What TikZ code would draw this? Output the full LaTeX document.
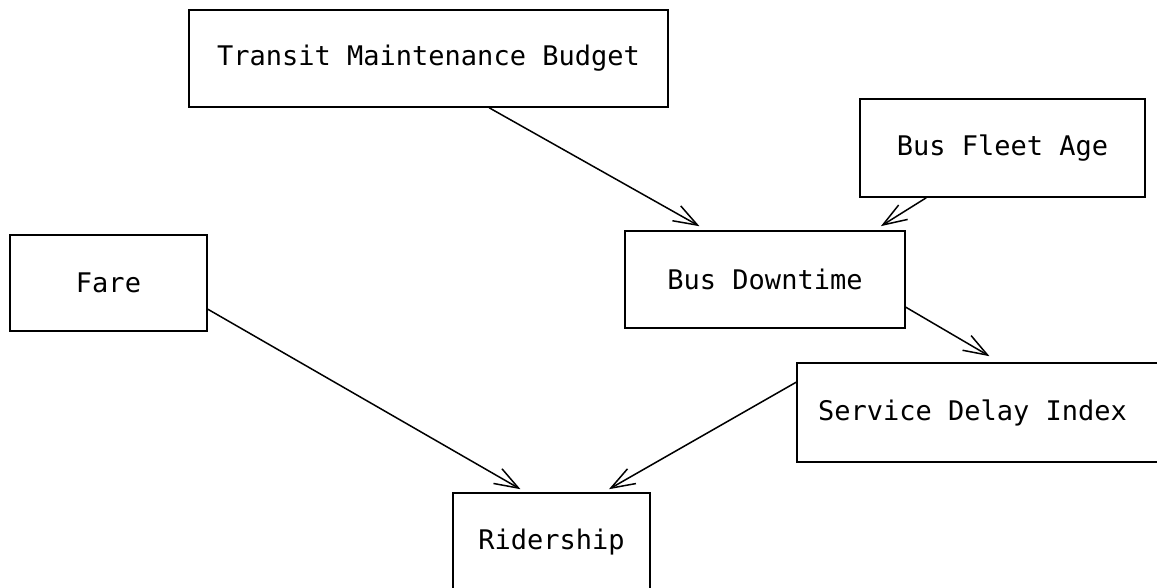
\documentclass[tikz,border=0pt]{standalone}
\usepackage{fontspec}
\newfontfamily\plotfont[WordSpace={1,0,0}]{DejaVu Sans Mono}
\usetikzlibrary{arrows.meta,calc}
\tikzset{
  box/.style={draw=black, line width=1.6pt, rectangle, inner sep=0pt, font=\plotfont\fontsize{27}{31}\selectfont},
  link/.style={draw=black, line width=1.5pt, -{Straight Barb[length=24pt,width=17pt,line width=1.5pt]}, shorten >=2pt}
}
\begin{document}
\begin{tikzpicture}[x=1pt,y=-1pt]
\useasboundingbox (0,0) rectangle (1157,588);
\node[box, minimum width=479pt, minimum height=97pt] (tmb) at (428.5,58.5) {Transit Maintenance Budget};
\node[box, minimum width=285pt, minimum height=98pt] (bfa) at (1002.5,148) {Bus Fleet Age};
\node[box, minimum width=197pt, minimum height=96pt] (fare) at (108.5,283) {Fare};
\node[box, minimum width=280pt, minimum height=97pt] (bd) at (765,279.5) {Bus Downtime};
\node[box, minimum height=99pt, inner xsep=21pt] (sdi) at (981,412.5) {\makebox[326pt][l]{Service Delay Index}};
\node[box, minimum width=197pt, minimum height=98pt] (rid) at (551.5,542) {Ridership};
\draw[link] ($(tmb.south west)+(301,0)$) -- ($(bd.north west)+(77,-3)$);
\draw[link] ($(bfa.south west)+(67,0)$) -- ($(bd.north west)+(255,-3)$);
\draw[link] ($(fare.north east)+(0,75)$) -- ($(rid.north west)+(70,-2)$);
\draw[link] ($(bd.north east)+(0,77)$) -- ($(sdi.north west)+(195,-5)$);
\draw[link] ($(sdi.north west)+(0,20)$) -- ($(rid.north west)+(155,-2)$);
\end{tikzpicture}
\end{document}
